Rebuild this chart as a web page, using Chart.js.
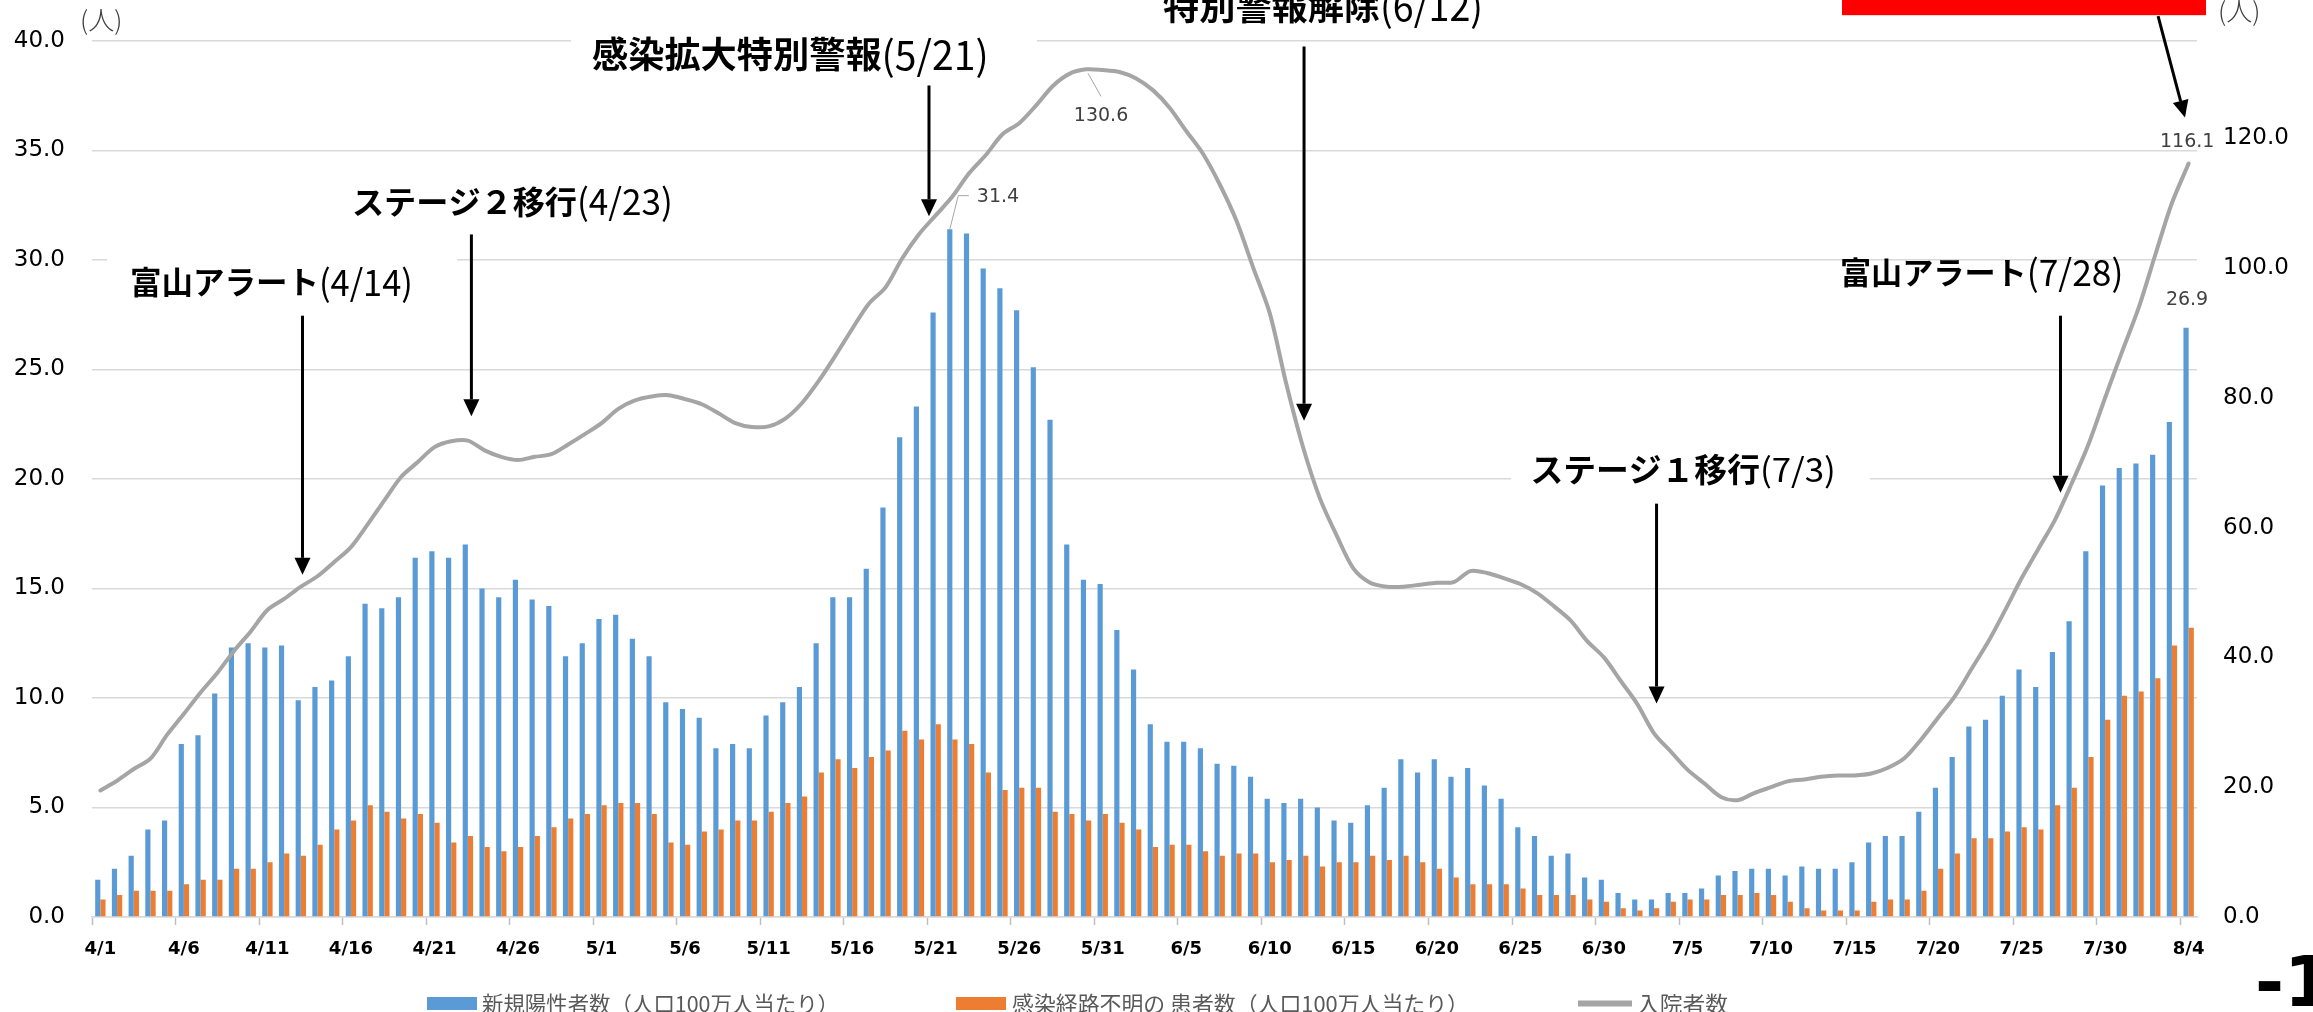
<!DOCTYPE html>
<html><head><meta charset="utf-8">
<script src="https://cdn.jsdelivr.net/npm/chart.js@4.4.1/dist/chart.umd.min.js"></script>
<style>html,body{margin:0;padding:0;background:#fff;overflow:hidden}#wrap{width:2313px;height:1012px;position:relative;background:#fff}</style>
</head><body><div id="wrap"><canvas id="c" width="2313" height="1012"></canvas></div>
<script>
// ---- categories (dates 4/1 .. 8/4) ----
const monthSpans = [[4, 30], [5, 31], [6, 30], [7, 31], [8, 4]];
const dateLabels = [];
monthSpans.forEach(([m, n]) => { for (let d = 1; d <= n; d++) dateLabels.push(m + '/' + d); });

// ---- series ----
const newCases = [
  1.7, 2.2, 2.8, 4.0, 4.4, 7.9, 8.3, 10.2, 12.3, 12.5, 12.3, 12.4, 9.9, 10.5, 10.8,
  11.9, 14.3, 14.1, 14.6, 16.4, 16.7, 16.4, 17.0, 15.0, 14.6, 15.4, 14.5, 14.2, 11.9, 12.5,
  13.6, 13.8, 12.7, 11.9, 9.8, 9.5, 9.1, 7.7, 7.9, 7.7, 9.2, 9.8, 10.5, 12.5, 14.6,
  14.6, 15.9, 18.7, 21.9, 23.3, 27.6, 31.4, 31.2, 29.6, 28.7, 27.7, 25.1, 22.7, 17.0, 15.4, 15.2,
  13.1, 11.3, 8.8, 8.0, 8.0, 7.7, 7.0, 6.9, 6.4, 5.4, 5.2, 5.4, 5.0, 4.4, 4.3,
  5.1, 5.9, 7.2, 6.6, 7.2, 6.4, 6.8, 6.0, 5.4, 4.1, 3.7, 2.8, 2.9, 1.8, 1.7,
  1.1, 0.8, 0.8, 1.1, 1.1, 1.3, 1.9, 2.1, 2.2, 2.2, 1.9, 2.3, 2.2, 2.2, 2.5,
  3.4, 3.7, 3.7, 4.8, 5.9, 7.3, 8.7, 9.0, 10.1, 11.3, 10.5, 12.1, 13.5, 16.7, 19.7, 20.5,
  20.7, 21.1, 22.6, 26.9
];
const unknownRoute = [
  0.8, 1.0, 1.2, 1.2, 1.2, 1.5, 1.7, 1.7, 2.2, 2.2, 2.5, 2.9, 2.8, 3.3, 4.0,
  4.4, 5.1, 4.8, 4.5, 4.7, 4.3, 3.4, 3.7, 3.2, 3.0, 3.2, 3.7, 4.1, 4.5, 4.7,
  5.1, 5.2, 5.2, 4.7, 3.4, 3.3, 3.9, 4.0, 4.4, 4.4, 4.8, 5.2, 5.5, 6.6, 7.2,
  6.8, 7.3, 7.6, 8.5, 8.1, 8.8, 8.1, 7.9, 6.6, 5.8, 5.9, 5.9, 4.8, 4.7, 4.4, 4.7,
  4.3, 4.0, 3.2, 3.3, 3.3, 3.0, 2.8, 2.9, 2.9, 2.5, 2.6, 2.8, 2.3, 2.5, 2.5,
  2.8, 2.6, 2.8, 2.5, 2.2, 1.8, 1.5, 1.5, 1.5, 1.3, 1.0, 1.0, 1.0, 0.8, 0.7,
  0.4, 0.3, 0.4, 0.7, 0.8, 0.8, 1.0, 1.0, 1.1, 1.0, 0.7, 0.4, 0.3, 0.3, 0.3,
  0.7, 0.8, 0.8, 1.2, 2.2, 2.9, 3.6, 3.6, 3.9, 4.1, 4.0, 5.1, 5.9, 7.3, 9.0, 10.1,
  10.3, 10.9, 12.4, 13.2
];
const hospitalized = [
  19.5, 21.0, 22.8, 24.4, 28.1, 31.3, 34.6, 37.6, 41.0, 44.0, 47.3, 49.0, 50.9, 52.5, 54.7,
  57.0, 60.5, 64.2, 67.8, 70.1, 72.4, 73.3, 73.4, 71.9, 70.9, 70.4, 70.9, 71.3, 72.8, 74.4,
  76.1, 78.3, 79.6, 80.2, 80.4, 79.8, 79.0, 77.6, 76.1, 75.5, 75.6, 76.8, 79.2, 82.6, 86.5,
  90.6, 94.5, 97.0, 101.5, 105.2, 108.1, 111.0, 114.6, 117.4, 120.6, 122.3, 125.0, 128.0, 129.9, 130.6, 130.5,
  130.2, 129.2, 127.4, 124.7, 121.1, 117.6, 112.9, 107.3, 100.1, 93.0, 82.0, 72.3, 64.5, 58.8, 53.7,
  51.5, 50.9, 50.9, 51.2, 51.5, 51.6, 53.3, 53.0, 52.2, 51.3, 49.9, 47.9, 45.7, 42.5, 40.0,
  36.4, 32.8, 28.3, 25.5, 22.7, 20.6, 18.5, 18.0, 19.1, 20.0, 20.9, 21.2, 21.6, 21.8, 21.8,
  22.1, 23.0, 24.5, 27.4, 30.7, 34.0, 38.2, 42.4, 47.2, 52.2, 56.7, 61.2, 66.8, 72.8, 80.0, 87.0,
  93.8, 102.0, 110.0, 116.1
];
const seriesNames = ['新規陽性者数（人口100万人当たり）', '感染経路不明の 患者数（人口100万人当たり）', '入院者数'];
const seriesColors = ['#5B9BD5', '#ED7D31', '#A5A5A5'];

// ---- axis ranges / ticks ----
const leftAxis = { min: 0, max: 40, step: 5 };
const rightAxis = { min: 0, max: 135, step: 20 };
const xLabelEvery = 5;

// ---- annotations (in data coordinates: category index, left-axis value) ----
const callouts = [
  { main: '富山アラート', sub: '(4/14)', at: 1.77, val: 28.98, ms: 31.5, mw: 189, ss: 36, sw: 94, arrow: [12.1, 27.45, 12.1, 15.62] },
  { main: 'ステージ２移行', sub: '(4/23)', at: 15.06, val: 32.65, ms: 32, mw: 225, ss: 36, sw: 96, arrow: [22.21, 31.16, 22.21, 22.86] },
  { main: '感染拡大特別警報', sub: '(5/21)', at: 29.43, val: 39.37, ms: 36, mw: 289.6, ss: 40, sw: 107, arrow: [49.6, 37.96, 49.6, 31.99] },
  { main: '特別警報解除', sub: '(6/12)', at: 63.61, val: 41.59, ms: 36, mw: 217, ss: 40, sw: 103, arrow: [72.05, 39.74, 72.05, 22.65] },
  { main: 'ステージ１移行', sub: '(7/3)', at: 85.6, val: 20.43, ms: 32.8, mw: 229.5, ss: 33, sw: 76, arrow: [93.15, 18.87, 93.15, 9.75] },
  { main: '富山アラート', sub: '(7/28)', at: 104.13, val: 29.43, ms: 31, mw: 186.7, ss: 36, sw: 96.7, arrow: [117.33, 27.45, 117.33, 19.37] }
];
const whiteBoxes = [[0.40, 21.36, 30.25, 27.71], [28.17, 56.06, 40.59, 38.15], [84.44, 105.92, 21.36, 19.46]];
const redBar = [104.25, 126.04, 42.5, 41.17];
const redArrow = [123.17, 41.13, 124.78, 36.5];

const CJK = '"Noto Sans CJK JP", sans-serif';

function drawArrow(ctx, x1, y1, x2, y2) {
  const ang = Math.atan2(y2 - y1, x2 - x1);
  const hl = 17, hw = 8;
  const bx = x2 - Math.cos(ang) * hl, by = y2 - Math.sin(ang) * hl;
  ctx.save();
  ctx.strokeStyle = '#000'; ctx.fillStyle = '#000'; ctx.lineWidth = 3;
  ctx.beginPath(); ctx.moveTo(x1, y1); ctx.lineTo(bx, by); ctx.stroke();
  ctx.beginPath();
  ctx.moveTo(x2, y2);
  ctx.lineTo(bx + Math.sin(ang) * hw, by - Math.cos(ang) * hw);
  ctx.lineTo(bx - Math.sin(ang) * hw, by + Math.cos(ang) * hw);
  ctx.closePath(); ctx.fill();
  ctx.restore();
}
function fitText(ctx, txt, x, y, font, w) {
  ctx.font = font;
  const m = ctx.measureText(txt).width;
  ctx.save(); ctx.translate(x, y); ctx.scale(w / m, 1); ctx.fillText(txt, 0, 0); ctx.restore();
  return x + w;
}

const overlay = {
  id: 'overlay',
  afterDraw(chart) {
    const ctx = chart.ctx, xs = chart.scales.x, ys = chart.scales.y;
    const X = v => xs.getPixelForValue(v), Y = v => ys.getPixelForValue(v);
    ctx.save();
    // white boxes behind texts
    ctx.fillStyle = '#fff';
    whiteBoxes.forEach(([a, b, t, bt]) => ctx.fillRect(X(a), Y(t), X(b) - X(a), Y(bt) - Y(t)));
    // red bar
    ctx.fillStyle = '#FF0000';
    ctx.fillRect(X(redBar[0]), Y(redBar[2]), X(redBar[1]) - X(redBar[0]), Y(redBar[3]) - Y(redBar[2]));
    drawArrow(ctx, X(redArrow[0]), Y(redArrow[1]), X(redArrow[2]), Y(redArrow[3]));
    // callouts
    ctx.fillStyle = '#000'; ctx.textBaseline = 'middle'; ctx.textAlign = 'left';
    callouts.forEach(c => {
      const y = Y(c.val);
      let x = fitText(ctx, c.main, X(c.at), y, `bold ${c.ms}px ${CJK}`, c.mw);
      fitText(ctx, c.sub, x, y, `400 ${c.ss}px ${CJK}`, c.sw);
      const a = c.arrow;
      drawArrow(ctx, X(a[0]), Y(a[1]), X(a[2]), Y(a[3]));
    });
    // data labels
    ctx.fillStyle = '#404040'; ctx.font = '19px "DejaVu Sans", sans-serif';
    const bars = chart.getDatasetMeta(0).data, line = chart.getDatasetMeta(2).data;
    const peakBar = newCases.indexOf(Math.max(...newCases));
    const peakLine = hospitalized.indexOf(Math.max(...hospitalized));
    const lastI = dateLabels.length - 1;
    ctx.strokeStyle = '#A6A6A6'; ctx.lineWidth = 1;
    let p = bars[peakBar];
    ctx.beginPath(); ctx.moveTo(p.x, p.y); ctx.lineTo(p.x + 8.5, p.y - 33.5); ctx.lineTo(p.x + 19, p.y - 33.5); ctx.stroke();
    ctx.textAlign = 'left'; ctx.fillText(newCases[peakBar].toFixed(1), p.x + 27, p.y - 32);
    p = line[peakLine];
    ctx.beginPath(); ctx.moveTo(p.x + 2, p.y + 4); ctx.lineTo(p.x + 15, p.y + 27); ctx.stroke();
    ctx.textAlign = 'center'; ctx.fillText(hospitalized[peakLine].toFixed(1), p.x + 15, p.y + 47);
    p = bars[lastI];
    ctx.fillText(newCases[lastI].toFixed(1), p.x + 1, p.y - 28);
    p = line[lastI];
    ctx.fillText(hospitalized[lastI].toFixed(1), p.x - 1.5, p.y - 21.5);
    // unit labels
    ctx.fillStyle = '#404040'; ctx.textAlign = 'left';
    ctx.font = `300 26px ${CJK}`;
    ctx.fillText('(人)', chart.chartArea.left - 12, 20);
    ctx.fillText('(人)', chart.chartArea.right + 21, 11);
    // legend
    const lg = [[427, 482, 357], [956, 1012, 457], [1578, 1637, 91]];
    const ly = 1003.5;
    lg.forEach(([bx, tx, tw], i) => {
      ctx.fillStyle = seriesColors[i];
      if (i < 2) ctx.fillRect(bx, ly - 6.5, 50, 13);
      else ctx.fillRect(bx, ly - 3, 54, 6);
      ctx.fillStyle = '#595959';
      fitText(ctx, seriesNames[i], tx, ly, `400 21.5px ${CJK}`, tw);
    });
    // page number
    ctx.fillStyle = '#000'; ctx.textBaseline = 'alphabetic';
    ctx.font = 'bold 70px "DejaVu Sans", sans-serif';
    ctx.fillText('-1-', 2255, 1006);
    ctx.restore();
  }
};

Chart.defaults.font.family = '"DejaVu Sans", sans-serif';
new Chart(document.getElementById('c'), {
  type: 'bar',
  data: {
    labels: dateLabels,
    datasets: [
      { type: 'bar', label: seriesNames[0], data: newCases, backgroundColor: seriesColors[0], yAxisID: 'y', order: 1, categoryPercentage: 0.62, barPercentage: 1.0 },
      { type: 'bar', label: seriesNames[1], data: unknownRoute, backgroundColor: seriesColors[1], yAxisID: 'y', order: 1, categoryPercentage: 0.62, barPercentage: 1.0 },
      { type: 'line', label: seriesNames[2], data: hospitalized, borderColor: seriesColors[2], borderWidth: 4, pointRadius: 0, tension: 0.3, yAxisID: 'y1', order: 0, borderCapStyle: 'round', borderJoinStyle: 'round' }
    ]
  },
  options: {
    responsive: false, animation: false, devicePixelRatio: 1,
    layout: { padding: { top: 35, left: 0, right: 0, bottom: 0 } },
    plugins: { legend: { display: false }, tooltip: { enabled: false } },
    scales: {
      x: {
        offset: true,
        grid: { offset: true, drawOnChartArea: false, tickLength: 8, tickWidth: 1.5,
                tickColor: c => (c.index % xLabelEvery === 0 ? '#BFBFBF' : 'rgba(0,0,0,0)') },
        border: { display: true, color: '#D9D9D9', width: 1.5 },
        ticks: { autoSkip: false, maxRotation: 0, minRotation: 0, padding: 14, color: '#000', font: { size: 18, weight: 'bold' },
                 callback: (v, i) => (i % xLabelEvery === 0 ? dateLabels[i] : '') },
        afterFit: s => { s.height = 95; }
      },
      y: {
        position: 'left', min: leftAxis.min, max: leftAxis.max,
        ticks: { stepSize: leftAxis.step, callback: v => v.toFixed(1), padding: 27, color: '#000', font: { size: 23 } },
        grid: { color: '#D9D9D9', lineWidth: 1.5, drawTicks: false },
        border: { display: false },
        afterFit: s => { s.width = 92; }
      },
      y1: {
        position: 'right', min: rightAxis.min, max: rightAxis.max,
        ticks: { stepSize: rightAxis.step, includeBounds: false, callback: v => v.toFixed(1), padding: 26, color: '#000', font: { size: 23 } },
        grid: { drawOnChartArea: false, drawTicks: false },
        border: { display: false },
        afterFit: s => { s.width = 116; }
      }
    }
  },
  plugins: [overlay]
});
</script></body></html>
